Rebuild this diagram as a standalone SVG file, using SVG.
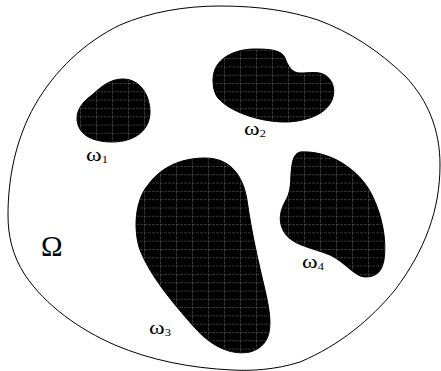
<svg xmlns="http://www.w3.org/2000/svg" width="441" height="371" viewBox="0 0 441 371">
<defs>
<pattern id="grid" width="16" height="8.3" patternUnits="userSpaceOnUse">
<rect width="16" height="8.3" fill="#000"/>
<path d="M0 0.5H16M0.5 0V8.3" stroke="#5a5a5a" stroke-width="0.6" stroke-dasharray="3 1"/>
</pattern>
</defs>
<style>
.blob{fill:url(#grid);stroke:#000;stroke-width:1}
.lbl{font-family:"Liberation Serif",serif;font-size:19px;fill:#000}
.sub{font-size:10px}
</style>
<g id="omega">
<path d="M220 6 C260 6 290 11 318 20 C350 32 378 50 405 76 C428 100 440 130 440 165 C440 210 425 250 395 290 C370 320 340 345 300 362 C275 370 250 371 232 370 C190 368 150 360 115 345 C80 330 45 305 25 275 C12 255 8 235 8 215 C8 180 15 140 35 105 C55 70 85 42 120 25 C150 12 185 6 220 6 Z" fill="none" stroke="#000" stroke-width="1"/>
<text class="lbl" x="41" y="256" style="font-size:29px">Ω</text>
</g>
<g id="w1">
<path class="blob" d="M123 79 C140 79 150 95 150 112 C150 130 135 142 112 142 C90 142 77 133 77 118 C77 108 85 100 92 95 C102 86 110 79 123 79 Z"/>
<text class="lbl" transform="translate(86 161) scale(1.25 1)">ω<tspan class="sub" dy="2">1</tspan></text>
</g>
<g id="w2">
<path class="blob" d="M213 80 C213 58 235 49 255 49 C270 49 282 50 285 58 C288 66 292 73 300 73 C310 73 318 71 325 75 C333 80 336 90 332 100 C325 117 300 122 285 122 C260 122 230 112 218 98 C214 93 213 86 213 80 Z"/>
<text class="lbl" transform="translate(244 135) scale(1.25 1)">ω<tspan class="sub" dy="2">2</tspan></text>
</g>
<g id="w3">
<path class="blob" d="M205 158 C230 158 243 175 247 200 C252 235 258 260 265 290 C272 320 275 345 250 352 C230 356 210 345 195 328 C170 300 150 275 140 250 C133 230 135 200 148 185 C160 168 180 158 205 158 Z"/>
<text class="lbl" transform="translate(149 334) scale(1.25 1)">ω<tspan class="sub" dy="2">3</tspan></text>
</g>
<g id="w4">
<path class="blob" d="M300 152 C330 150 360 170 372 195 C382 215 387 240 384 260 C382 270 378 277 365 277 C355 277 345 262 330 255 C310 247 290 245 283 230 C278 220 280 210 287 198 C292 188 290 175 292 165 C293 157 296 153 300 152 Z"/>
<text class="lbl" transform="translate(302 268) scale(1.25 1)">ω<tspan class="sub" dy="2">4</tspan></text>
</g>
<g id="connectors"/>
</svg>
